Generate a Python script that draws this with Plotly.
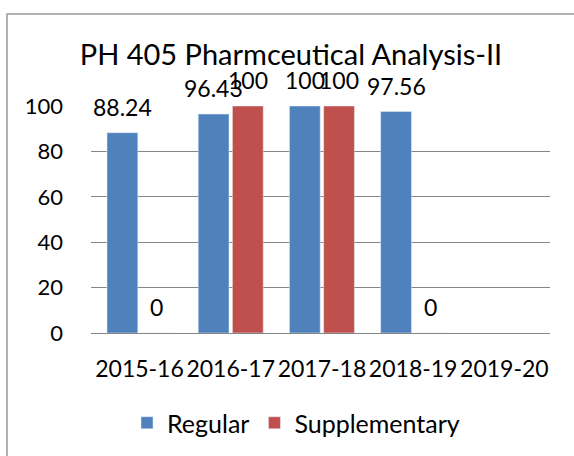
import plotly.graph_objects as go

categories = ["2015-16", "2016-17", "2017-18", "2018-19", "2019-20"]
regular = [88.24, 96.43, 100, 97.56, None]
supplementary = [0, 100, 100, 0, None]
title_text = "PH 405 Pharmceutical Analysis-II"
y_ticks = [0, 20, 40, 60, 80, 100]

BLUE = "#4F81BD"
RED = "#C0504D"
FONT = "Lato"
L, R, T, B = 91, 24, 106, 123
W, H = 574, 456
PW, PH = W - L - R, H - T - B

fig = go.Figure()
fig.add_trace(go.Bar(name="Regular", x=categories, y=regular, marker_color=BLUE))
fig.add_trace(go.Bar(name="Supplementary", x=categories, y=supplementary, marker_color=RED))

# data labels
for series, shift in ((regular, -17), (supplementary, 17)):
    for c, v in zip(categories, series):
        if v is None:
            continue
        fig.add_annotation(x=c, y=v, text=f"{v:g}", showarrow=False, xshift=shift,
                           yshift=26, yanchor="middle",
                           font=dict(family=FONT, size=23, color="#000"))

fig.add_shape(type="rect", xref="paper", yref="paper",
              x0=(7 - L) / PW, x1=(590 - L) / PW,
              y0=-(480 - (H - B)) / PH, y1=((H - B) - 14) / PH,
              line=dict(color="#999", width=1.5), layer="below")

fig.update_layout(
    width=W, height=H,
    margin=dict(l=L, r=R, t=T, b=B, autoexpand=False),
    paper_bgcolor="white", plot_bgcolor="white",
    barmode="group", bargap=0.25, bargroupgap=0.1,
    title=dict(text=title_text, x=291 / W, xanchor="center", xref="container",
               y=1 - 55 / H, yanchor="middle", yref="container",
               font=dict(family=FONT, size=29, color="#000")),
    font=dict(family=FONT, size=23, color="#000"),
    showlegend=True,
    legend=dict(orientation="h", x=(296 - L) / PW, xanchor="center",
                y=-(423 - (H - B)) / PH, yanchor="middle",
                font=dict(family=FONT, size=25, color="#000"), itemwidth=30,
                traceorder="normal"),
    xaxis=dict(showgrid=False, showline=True, linecolor="#868686", linewidth=1,
               ticks="", ticklabelstandoff=15, tickfont=dict(family=FONT, size=23)),
    yaxis=dict(range=[0, 100], tickvals=y_ticks, showgrid=True, gridcolor="#868686",
               gridwidth=1, zeroline=False, showline=False, ticks="",
               ticklabelstandoff=27, tickfont=dict(family=FONT, size=22)),
)

fig.write_html("out.html", config={"displayModeBar": False},
               post_script="document.body.style.margin='0';document.documentElement.style.overflow='hidden';")
